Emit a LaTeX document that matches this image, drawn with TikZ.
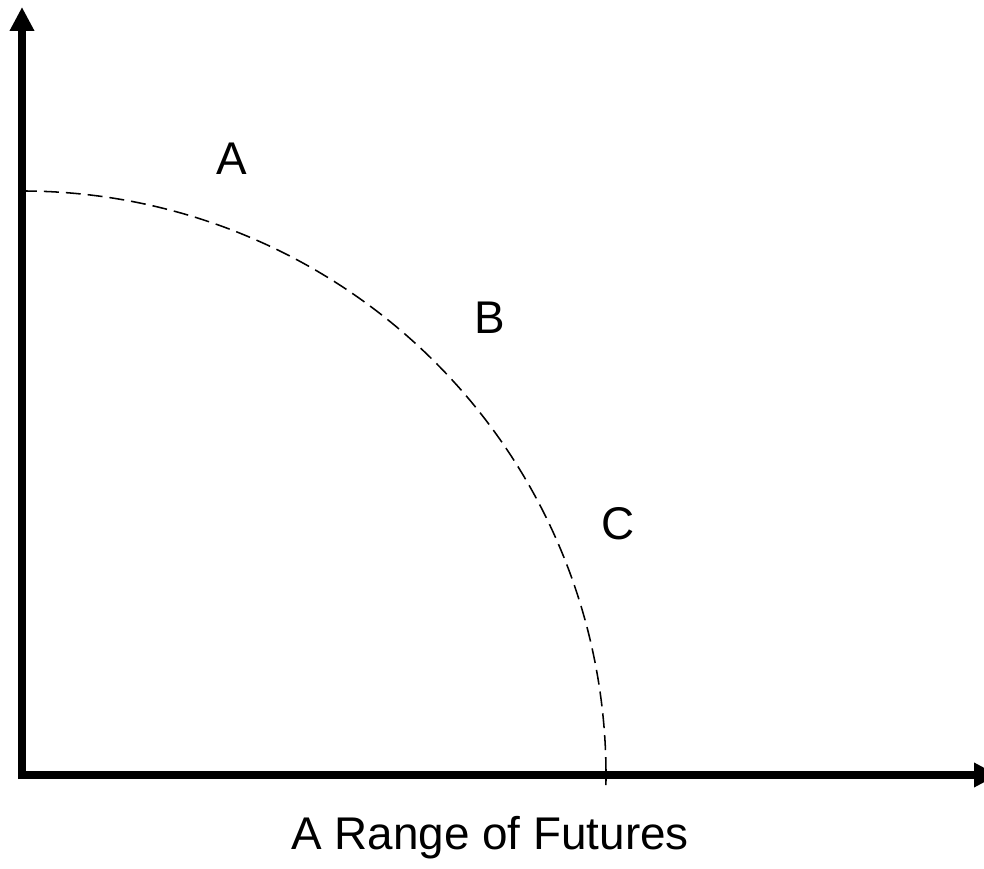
\documentclass[tikz,border=0pt]{standalone}
\usepackage{fontspec}
\setmainfont{Liberation Sans}
\usetikzlibrary{arrows.meta,positioning}
\tikzset{
  axisline/.style = {
    line width=0.2cm,
    -{Triangle[length=0.6cm,width=0.58cm]}
  },
  frontier/.style = {
    line width=1.1pt,
    dash pattern=on 10.6pt off 5pt
  },
  pointlabel/.style = {
    font=\fontsize{32.6}{39}\selectfont,
    inner sep=0pt
  },
  axislabel/.style = {
    font=\fontsize{32.6}{39}\selectfont,
    inner sep=0pt
  }
}

\begin{document}
\begin{tikzpicture}[x=0.025cm,y=0.025cm]
    \useasboundingbox (-22,-93) rectangle (962,775);
    \coordinate (origin) at (0,0);
    \coordinate (ystart) at (0,-4);
    \coordinate (xstart) at (-4,0);
    \coordinate (ytop) at (0,768);
    \coordinate (xend) at (976,0);
    \coordinate (arcstart) at (0,584);
    \node[pointlabel] (ptA) at (210,616) {A};
    \node[pointlabel] (ptB) at (468,457) {B};
    \node[pointlabel] (ptC) at (596,251) {C};
    \node[axislabel] (futures) at (468,-63) {A Range of Futures};
    \draw[frontier] (arcstart) arc[start angle=90,end angle=-1,radius=584];
    \draw[axisline] (ystart) -- (ytop);
    \draw[axisline] (xstart) -- (xend);
  \end{tikzpicture}
\end{document}
